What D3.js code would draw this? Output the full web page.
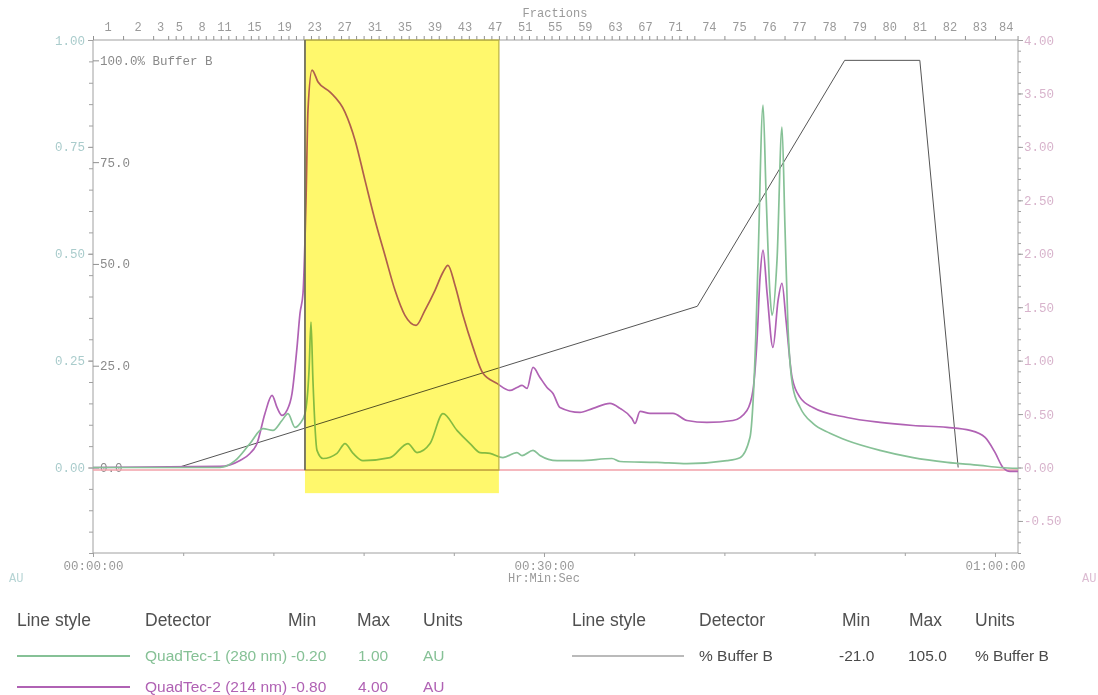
<!DOCTYPE html>
<html>
<head>
<meta charset="utf-8">
<script src="https://cdn.jsdelivr.net/npm/d3@7"></script>
<style>
  body { margin: 0; background: #ffffff; }
  svg { display: block; }
</style>
</head>
<body>
<div id="chart"></div>
<script>
// time in minutes
var greenTime = [0, 8.45, 9.45, 10.44, 11.31, 11.97, 12.57, 12.97, 13.44, 13.77, 14.10, 14.37, 14.50, 14.63, 14.90, 15.30, 16.23, 16.76, 17.30, 17.96, 19.76, 20.95, 21.55, 22.42, 23.28, 24.21, 25.08, 25.74, 26.41, 27.27, 28.20, 28.54, 29.27, 29.73, 30.87, 32.40, 34.52, 35.06, 37.52, 39.51, 42.17, 43.04, 43.70, 43.90, 44.10, 44.24, 44.57, 44.77, 45.03, 45.17, 45.50, 45.83, 46.03, 46.23, 46.56, 47.03, 47.89, 49.02, 50.16, 52.35, 54.55, 56.81, 59.00, 60.33, 61.53];
var greenAU = [0, 0, 0.016, 0.056, 0.091, 0.087, 0.110, 0.126, 0.094, 0.103, 0.126, 0.227, 0.340, 0.204, 0.040, 0.021, 0.033, 0.056, 0.033, 0.016, 0.023, 0.056, 0.035, 0.056, 0.126, 0.087, 0.056, 0.035, 0.033, 0.023, 0.035, 0.028, 0.040, 0.028, 0.016, 0.016, 0.021, 0.014, 0.012, 0.009, 0.016, 0.023, 0.070, 0.150, 0.320, 0.485, 0.848, 0.642, 0.407, 0.356, 0.485, 0.796, 0.562, 0.328, 0.187, 0.141, 0.103, 0.080, 0.063, 0.040, 0.023, 0.012, 0.005, 0.000, -0.002];

var purpleTime = [0, 8.45, 9.78, 10.44, 10.91, 11.44, 11.91, 12.24, 12.57, 12.90, 13.24, 13.57, 13.77, 13.97, 14.17, 14.30, 14.57, 14.97, 15.77, 16.76, 17.43, 18.09, 18.76, 19.42, 20.09, 20.75, 21.49, 22.08, 22.75, 23.28, 23.61, 24.08, 24.61, 25.28, 25.94, 26.87, 27.74, 28.20, 28.54, 28.87, 29.27, 29.73, 30.20, 30.60, 31.06, 32.39, 33.26, 34.39, 35.06, 35.85, 36.05, 36.39, 37.05, 38.58, 39.51, 40.84, 42.57, 43.50, 43.90, 44.17, 44.37, 44.57, 44.84, 45.23, 45.57, 45.83, 46.10, 46.50, 47.03, 47.89, 50.16, 52.35, 54.55, 56.81, 58.34, 59.34, 60.00, 60.53, 61.00, 61.53];
var purpleAU = [0, 0.01, 0.066, 0.131, 0.225, 0.506, 0.674, 0.562, 0.487, 0.534, 0.693, 1.124, 1.443, 1.630, 2.501, 3.344, 3.719, 3.607, 3.513, 3.326, 3.063, 2.689, 2.314, 1.986, 1.658, 1.424, 1.330, 1.471, 1.658, 1.827, 1.892, 1.705, 1.424, 1.124, 0.881, 0.787, 0.721, 0.749, 0.768, 0.740, 0.937, 0.843, 0.749, 0.693, 0.562, 0.515, 0.553, 0.600, 0.553, 0.459, 0.412, 0.525, 0.506, 0.506, 0.440, 0.422, 0.440, 0.534, 0.721, 1.190, 1.780, 2.033, 1.630, 1.124, 1.564, 1.724, 1.377, 0.843, 0.656, 0.562, 0.468, 0.422, 0.393, 0.375, 0.347, 0.281, 0.141, 0.000, -0.037, -0.037];

var bufferTime = [0, 5.66, 40.2, 50.0, 55.0, 57.55];
var bufferPct = [0, 0, 39.6, 100, 100, 0];

// fraction collector boundaries (min) and the fraction numbers printed on top
var fractionBounds = [0, 2, 4, 5, 5.5, 6, 6.5, 7, 7.5, 8, 8.5, 9, 9.5, 10, 10.5, 11, 11.5, 12, 12.5, 13, 13.5, 14, 14.5, 15, 15.5, 16, 16.5, 17, 17.5, 18, 18.5, 19, 19.5, 20, 20.5, 21, 21.5, 22, 22.5, 23, 23.5, 24, 24.5, 25, 25.5, 26, 26.5, 27, 27.5, 28, 28.5, 29, 29.5, 30, 30.5, 31, 31.5, 32, 32.5, 33, 33.5, 34, 34.5, 35, 35.5, 36, 36.5, 37, 37.5, 38, 38.5, 39, 39.5, 40, 42, 44, 46, 48, 50, 52, 54, 56, 58, 60, 61.5];
var fractionLabels = [1, 2, 3, 5, 8, 11, 15, 19, 23, 27, 31, 35, 39, 43, 47, 51, 55, 59, 63, 67, 71, 74, 75, 76, 77, 78, 79, 80, 81, 82, 83, 84];

var leftTicks = [1.00, 0.75, 0.50, 0.25, 0.00];
var rightTicks = [4.00, 3.50, 3.00, 2.50, 2.00, 1.50, 1.00, 0.50, 0.00, -0.50];
var bufferTicks = [100, 75, 50, 25, 0];
var timeTicks = [0, 30, 60];
var timeLabels = ["00:00:00", "00:30:00", "01:00:00"];

var highlight = [14.1, 27.0]; // marked fractions, min

var legendHead = ["Line style", "Detector", "Min", "Max", "Units"];
var legendDetector = ["QuadTec-1 (280 nm)", "QuadTec-2 (214 nm)", "% Buffer B"];
var legendMin = ["-0.20", "-0.80", "-21.0"];
var legendMax = ["1.00", "4.00", "105.0"];
var legendUnits = ["AU", "AU", "% Buffer B"];

drawChart();

function drawChart() {
    var w = 1098, h = 695;
    var left = 93, right = 1018, top = 40, bottom = 553;
    var mono = "'Liberation Mono', 'DejaVu Sans Mono', monospace";
    var sans = "'Liberation Sans', Arial, sans-serif";
    var greenCol = "#86c196", purpleCol = "#b062b4", grayCol = "#555555";

    var svg = d3.select("#chart").append("svg").attr("width", w).attr("height", h).style("background", "#ffffff");

    var x = d3.scaleLinear().domain([0, 61.53]).range([left, right]);
    var yAU = d3.scaleLinear().domain([-0.2, 1.0]).range([bottom, top]);
    var yAU2 = d3.scaleLinear().domain([-0.8, 4.0]).range([bottom, top]);
    var yB = d3.scaleLinear().domain([-21, 105]).range([bottom, top]);

    var frame = svg.append("g").attr("stroke", "#a0a0a0").attr("stroke-width", 1);
    frame.append("line").attr("x1", left).attr("x2", right).attr("y1", top).attr("y2", top);
    frame.append("line").attr("x1", left).attr("x2", right).attr("y1", bottom).attr("y2", bottom);
    frame.append("line").attr("x1", left).attr("x2", left).attr("y1", top).attr("y2", bottom);
    frame.append("line").attr("x1", right).attr("x2", right).attr("y1", top).attr("y2", bottom);

    // left AU axis
    svg.append("g").attr("transform", "translate(" + left + ",0)")
        .call(d3.axisLeft(yAU).tickValues(d3.range(-0.2, 1.001, 0.05)).tickSize(4).tickFormat(""))
        .call(g => g.select(".domain").remove())
        .call(g => g.selectAll("line").attr("stroke", "#a0a0a0"));
    svg.append("g").attr("transform", "translate(" + left + ",0)")
        .call(d3.axisLeft(yAU).tickValues(leftTicks).tickSize(5).tickPadding(3).tickFormat(d => d.toFixed(2)))
        .call(g => g.select(".domain").remove())
        .call(g => g.selectAll("line").attr("stroke", "#a0a0a0"))
        .call(g => g.selectAll("text").attr("fill", "#aacccc").style("font-family", mono).style("font-size", "12.5px"));

    // % buffer B labels inside the left axis
    svg.append("g").attr("transform", "translate(" + left + ",0)")
        .call(d3.axisRight(yB).tickValues(bufferTicks).tickSize(6).tickPadding(1)
            .tickFormat(d => d == 100 ? "100.0% Buffer B" : d.toFixed(1)))
        .call(g => g.select(".domain").remove())
        .call(g => g.selectAll("line").attr("stroke", "#909090"))
        .call(g => g.selectAll("text").attr("fill", "#8a8a8a").style("font-family", mono).style("font-size", "12.5px"));

    // right AU axis
    svg.append("g").attr("transform", "translate(" + right + ",0)")
        .call(d3.axisRight(yAU2).tickValues(d3.range(-0.8, 4.001, 0.1)).tickSize(3).tickFormat(""))
        .call(g => g.select(".domain").remove())
        .call(g => g.selectAll("line").attr("stroke", "#a0a0a0"));
    svg.append("g").attr("transform", "translate(" + right + ",0)")
        .call(d3.axisRight(yAU2).tickValues(rightTicks).tickSize(5).tickPadding(1).tickFormat(d => d.toFixed(2)))
        .call(g => g.select(".domain").remove())
        .call(g => g.selectAll("line").attr("stroke", "#a0a0a0"))
        .call(g => g.selectAll("text").attr("fill", "#d8b4cc").style("font-family", mono).style("font-size", "12.5px"));

    // time axis
    svg.append("g").attr("transform", "translate(0," + bottom + ")")
        .call(d3.axisBottom(x).tickValues(d3.range(0, 61, 6)).tickSize(3).tickFormat(""))
        .call(g => g.select(".domain").remove())
        .call(g => g.selectAll("line").attr("stroke", "#a0a0a0"));
    svg.append("g").attr("transform", "translate(0," + bottom + ")")
        .call(d3.axisBottom(x).tickValues(timeTicks).tickSize(4).tickPadding(4).tickFormat((d, i) => timeLabels[i]))
        .call(g => g.select(".domain").remove())
        .call(g => g.selectAll("line").attr("stroke", "#a0a0a0"))
        .call(g => g.selectAll("text").attr("fill", "#9a9a9a").style("font-family", mono).style("font-size", "12.5px"));
    svg.append("text").attr("x", x(30)).attr("y", 582).attr("text-anchor", "middle")
        .attr("fill", "#9a9a9a").style("font-family", mono).style("font-size", "12px").text("Hr:Min:Sec");
    svg.append("text").attr("x", 9).attr("y", 582).attr("fill", "#b6d4d4").style("font-family", mono).style("font-size", "12px").text("AU");
    svg.append("text").attr("x", 1082).attr("y", 582).attr("fill", "#dcbcd2").style("font-family", mono).style("font-size", "12px").text("AU");

    // fraction axis on top
    svg.append("g").attr("transform", "translate(0," + top + ")")
        .call(d3.axisTop(x).tickValues(fractionBounds).tickSize(4).tickFormat(""))
        .call(g => g.select(".domain").remove())
        .call(g => g.selectAll("line").attr("stroke", "#909090"));
    var centers = fractionLabels.map(n => (fractionBounds[n - 1] + fractionBounds[n]) / 2);
    svg.append("g").selectAll("text").data(fractionLabels).enter().append("text")
        .attr("x", (d, i) => x(centers[i])).attr("y", 31).attr("text-anchor", "middle")
        .attr("fill", "#9a9a9a").style("font-family", mono).style("font-size", "12px").text(d => d);
    svg.append("text").attr("x", 555).attr("y", 17).attr("text-anchor", "middle")
        .attr("fill", "#9a9a9a").style("font-family", mono).style("font-size", "12px").text("Fractions");

    // traces
    var lineB = d3.line().x(d => x(d[0])).y(d => yB(d[1]));
    var lineG = d3.line().x(d => x(d[0])).y(d => yAU(d[1])).curve(d3.curveMonotoneX);
    var lineP = d3.line().x(d => x(d[0])).y(d => yAU2(d[1])).curve(d3.curveMonotoneX);

    svg.append("line").attr("x1", left).attr("x2", right).attr("y1", yAU(-0.006)).attr("y2", yAU(-0.006))
        .attr("stroke", "#f2a0a8").attr("stroke-width", 1.5);
    svg.append("path").attr("d", lineB(d3.zip(bufferTime, bufferPct)))
        .attr("fill", "none").attr("stroke", grayCol).attr("stroke-width", 1);
    svg.append("path").attr("d", lineP(d3.zip(purpleTime, purpleAU)))
        .attr("fill", "none").attr("stroke", purpleCol).attr("stroke-width", 1.7);
    svg.append("path").attr("d", lineG(d3.zip(greenTime, greenAU)))
        .attr("fill", "none").attr("stroke", greenCol).attr("stroke-width", 1.7);

    // highlighted fraction block
    svg.append("rect").attr("x", x(highlight[0])).attr("y", top)
        .attr("width", x(highlight[1]) - x(highlight[0])).attr("height", yAU(-0.06) - top)
        .attr("fill", "#fff86c").style("mix-blend-mode", "multiply");
    svg.append("rect").attr("x", x(highlight[0])).attr("y", top)
        .attr("width", x(highlight[1]) - x(highlight[0])).attr("height", yAU(-0.006) - top)
        .attr("fill", "none").attr("stroke", "#b8b040").attr("stroke-width", 1.2);
    svg.append("line").attr("x1", x(highlight[0])).attr("x2", x(highlight[0])).attr("y1", top).attr("y2", yAU(-0.006))
        .attr("stroke", "#606060").attr("stroke-width", 1.5);

    // legend
    var headX = [[17, 145, 288, 357, 423], [572, 699, 842, 909, 975]];
    var rowX = [[17, 145, 291, 358, 423], [572, 699, 839, 908, 975]];
    var legend = svg.append("g").style("font-family", sans);
    headX.forEach(function (cx) {
        legendHead.forEach(function (t, i) {
            legend.append("text").attr("x", cx[i]).attr("y", 626).attr("fill", "#505050")
                .style("font-size", "17.5px").text(t);
        });
    });
    var rows = [
        { col: 0, y: 656, color: greenCol, text: greenCol, k: 0 },
        { col: 0, y: 687, color: purpleCol, text: purpleCol, k: 1 },
        { col: 1, y: 656, color: "#777777", text: "#4a4a4a", k: 2 }
    ];
    rows.forEach(function (r) {
        var cx = rowX[r.col];
        legend.append("line").attr("x1", cx[0]).attr("x2", cx[0] + (r.col == 0 ? 113 : 112)).attr("y1", r.y).attr("y2", r.y)
            .attr("stroke", r.color).attr("stroke-width", r.col == 0 ? 2 : 1.2);
        var vals = [legendDetector[r.k], legendMin[r.k], legendMax[r.k], legendUnits[r.k]];
        vals.forEach(function (t, i) {
            legend.append("text").attr("x", cx[i + 1]).attr("y", r.y + 4.5)
                .attr("fill", r.text).style("font-size", "15.5px").text(t);
        });
    });
}
</script>
</body>
</html>
